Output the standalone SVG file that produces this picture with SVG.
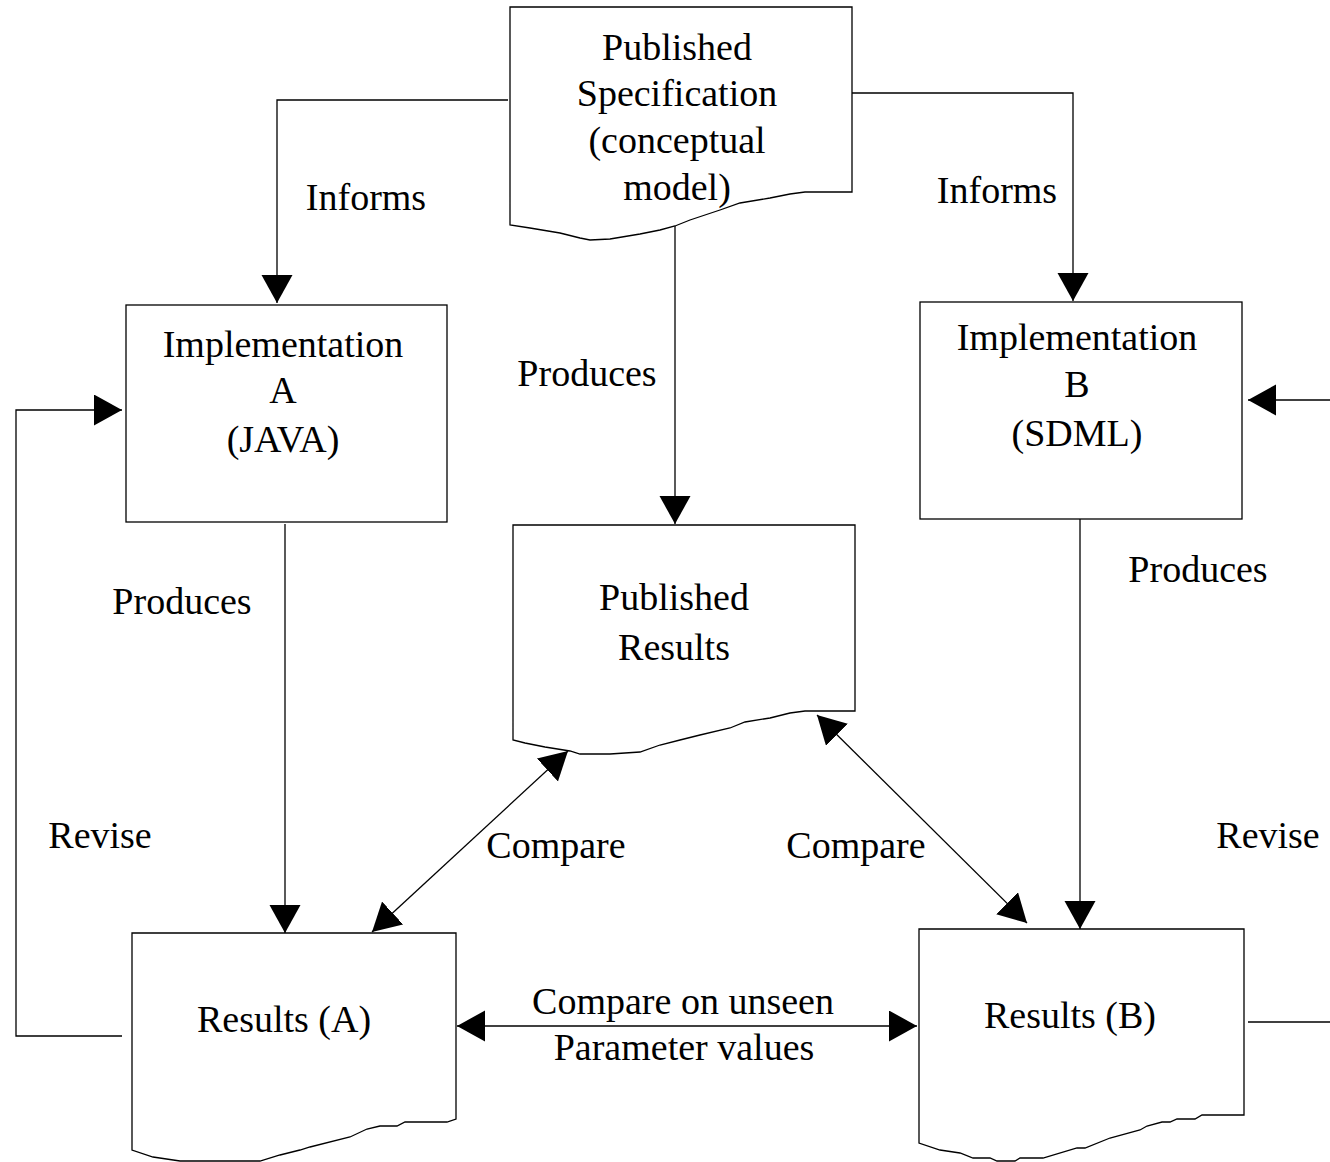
<svg xmlns="http://www.w3.org/2000/svg" width="1330" height="1162" viewBox="0 0 1330 1162">
<style>
.shape{fill:#fff;stroke:#000;stroke-width:1.3}
.conn{fill:none;stroke:#000;stroke-width:1.3}
text{font-family:"Liberation Serif","Times New Roman",serif;font-size:38px;fill:#000;text-anchor:middle}
</style>
<defs>
<marker id="ah" markerUnits="userSpaceOnUse" markerWidth="30" markerHeight="32" refX="28" refY="15.5" orient="auto-start-reverse">
<path d="M0,0 L28,15.5 L0,31 z" fill="#000"/>
</marker>
</defs>
<rect width="1330" height="1162" fill="#fff"/>
<g id="connectors">
<polyline class="conn" points="508,100 277,100 277,303" marker-end="url(#ah)"/>
<polyline class="conn" points="852,93 1073,93 1073,301" marker-end="url(#ah)"/>
<line class="conn" x1="675" y1="226" x2="675" y2="524" marker-end="url(#ah)"/>
<line class="conn" x1="285" y1="524" x2="285" y2="933" marker-end="url(#ah)"/>
<line class="conn" x1="1080" y1="519" x2="1080" y2="929" marker-end="url(#ah)"/>
<line class="conn" x1="568" y1="751" x2="372" y2="932" marker-start="url(#ah)" marker-end="url(#ah)"/>
<line class="conn" x1="817" y1="715" x2="1027" y2="923" marker-start="url(#ah)" marker-end="url(#ah)"/>
<line class="conn" x1="457" y1="1026" x2="917" y2="1026" marker-start="url(#ah)" marker-end="url(#ah)"/>
<polyline class="conn" points="122,1036 16,1036 16,410 122,410" marker-end="url(#ah)"/>
<line class="conn" x1="1330" y1="400" x2="1248" y2="400" marker-end="url(#ah)"/>
<line class="conn" x1="1248" y1="1022" x2="1330" y2="1022"/>
</g>
<g id="spec">
<path class="shape" d="M510,7 H852 V192 H805 L790,194 L770,198 L740,203 L720,210 L690,220 L675,226 L660,230 L640,234 L610,239 L590,240 L580,238 L560,233 L530,228 L510,225 Z"/>
<text x="677" y="60">Published</text>
<text x="677" y="106">Specification</text>
<text x="677" y="153">(conceptual</text>
<text x="677" y="200">model)</text>
</g>
<g id="implA">
<rect class="shape" x="126" y="305" width="321" height="217"/>
<text x="283" y="357">Implementation</text>
<text x="283" y="403">A</text>
<text x="283" y="452">(JAVA)</text>
</g>
<g id="implB">
<rect class="shape" x="920" y="302" width="322" height="217"/>
<text x="1077" y="350">Implementation</text>
<text x="1077" y="397">B</text>
<text x="1077" y="446">(SDML)</text>
</g>
<g id="pubresults">
<path class="shape" d="M513,525 H855 V711 H805 L790,713 L770,718 L745,722 L730,728 L700,735 L680,740 L660,745 L640,752 L610,754 L580,754 L570,751 L545,747 L525,743 L513,740 Z"/>
<text x="674" y="610">Published</text>
<text x="674" y="660">Results</text>
</g>
<g id="resultsA">
<path class="shape" d="M132,933 H456 V1119 L447,1122 L405,1122 L397,1126 L380,1126 L367,1129 L350,1137 L310,1147 L300,1150 L280,1155 L260,1161 L180,1161 L153,1157 L132,1150 Z"/>
<text x="284" y="1032">Results (A)</text>
</g>
<g id="resultsB">
<path class="shape" d="M919,929 H1244 V1115 L1202,1115 L1195,1119 L1177,1119 L1170,1122 L1162,1122 L1147,1126 L1140,1130 L1110,1138 L1085,1148 L1077,1148 L1043,1158 L1020,1158 L1015,1161 L997,1161 L990,1158 L973,1158 L960,1153 L940,1150 L919,1143 Z"/>
<text x="1070" y="1028">Results (B)</text>
</g>
<g id="labels">
<text x="366" y="210">Informs</text>
<text x="997" y="203">Informs</text>
<text x="587" y="386">Produces</text>
<text x="182" y="614">Produces</text>
<text x="1198" y="582">Produces</text>
<text x="100" y="848">Revise</text>
<text x="1268" y="848">Revise</text>
<text x="556" y="858">Compare</text>
<text x="856" y="858">Compare</text>
<text x="683" y="1014">Compare on unseen</text>
<text x="684" y="1060">Parameter values</text>
</g>
</svg>
